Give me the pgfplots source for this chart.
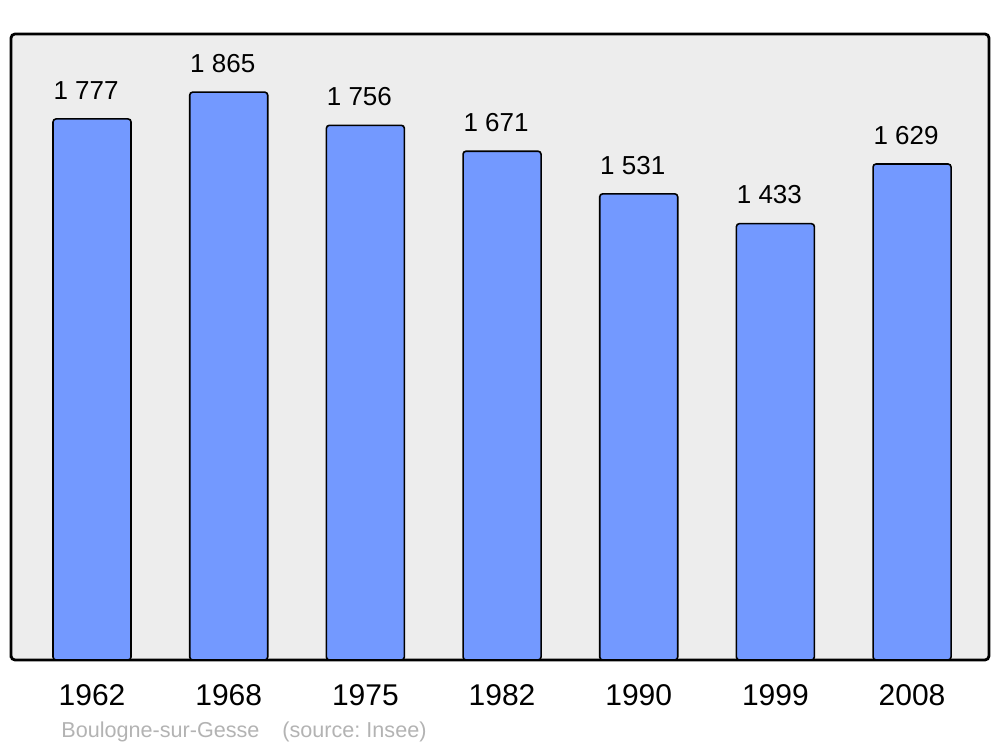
\documentclass[border=0pt]{standalone}
\usepackage{pgfplots}
\pgfplotsset{compat=1.18}
\usepackage{fontspec}
\setmainfont{Liberation Sans}
\definecolor{barblue}{HTML}{7399FF}
\definecolor{bgray}{HTML}{EDEDED}
\definecolor{srcgray}{HTML}{B3B3B3}
\frenchspacing
\begin{document}
\begin{tikzpicture}
\begin{axis}[
  scale only axis,
  width=489pt, height=313pt,
  xmin=-0.593, xmax=6.563,
  ymin=0, ymax=2056,
  axis background/.style={fill=bgray},
  axis line style={line width=1.4pt, rounded corners=2pt},
  ybar, bar width=39pt,
  xtick={0,...,6},
  xticklabels={1962,1968,1975,1982,1990,1999,2008},
  xtick style={draw=none},
  ytick=\empty,
  ticklabel style={font=\fontsize{15}{17}\selectfont},
  xticklabel style={yshift=-4.5pt},
  nodes near coords,
  nodes near coords style={font=\fontsize{13}{15}\selectfont, anchor=south, yshift=6pt, xshift=-3pt,
    /pgf/number format/.cd, 1000 sep={\ }, assume math mode=true},
  /pgf/number format/assume math mode=true,
  clip=false,
]
\addplot[fill=barblue, draw=black, line width=0.8pt, rounded corners=1.5pt] coordinates {
(0,1777) (1,1865) (2,1756) (3,1671) (4,1531) (5,1433) (6,1629)};
\node[anchor=west, text=srcgray, font=\fontsize{10.8}{12}\selectfont, inner sep=0pt] at (rel axis cs:0.0511,-0.1145) {Boulogne-sur-Gesse\hspace{11.5pt}(source: Insee)};
\end{axis}
\path (current axis.south west) ++(-5.5pt,-43.5pt) coordinate (bl);
\path (bl) ++(500pt,373.5pt) coordinate (tr);
\useasboundingbox (bl) rectangle (tr);
\end{tikzpicture}
\end{document}
